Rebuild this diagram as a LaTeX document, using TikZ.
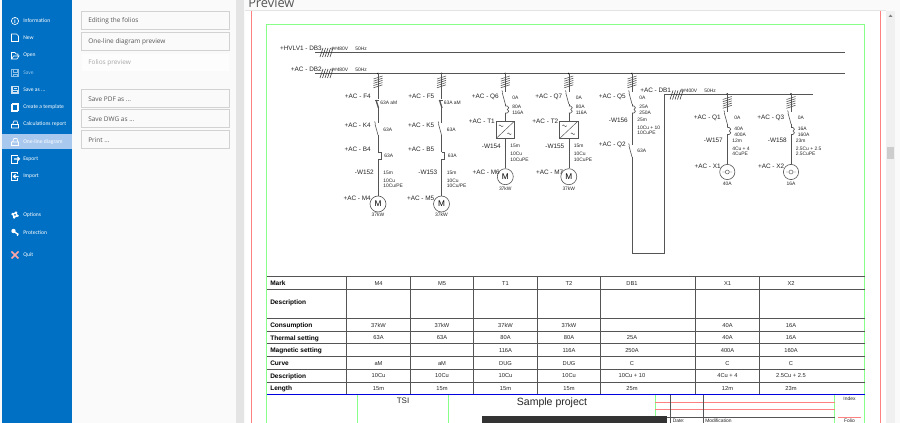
\documentclass[tikz,border=0pt]{standalone}
\usepackage{fontspec}
\setmainfont{Liberation Sans}
\newfontfamily\uifont{Open Sans}
\newfontfamily\menufont{Carlito}
\definecolor{menublue}{HTML}{0070C4}
\definecolor{menuhi}{HTML}{A8C8EE}
\definecolor{menudim}{HTML}{8FC0E8}
\definecolor{panelgrey}{HTML}{FAFAFA}
\definecolor{edgegrey}{HTML}{D2D2D2}
\definecolor{stripgrey}{HTML}{E4E4E4}
\definecolor{scrollgrey}{HTML}{F0F0F0}
\definecolor{thumbgrey}{HTML}{CDCDCD}
\definecolor{uitext}{HTML}{555555}
\definecolor{wiregrey}{HTML}{555555}
\definecolor{pagegreen}{HTML}{88FF88}
\definecolor{pagered}{HTML}{FF8080}
\definecolor{rowblue}{HTML}{0000E0}
\tikzset{
  menuitem/.style={anchor=west,inner sep=0pt,text=white,font=\menufont\fontsize{4.2}{5}\selectfont},
  panelbtn/.style={draw=edgegrey,line width=0.6pt,fill=panelgrey,minimum width=111pt,minimum height=13.2pt,anchor=north west,inner sep=0pt},
  paneltxt/.style={anchor=west,inner sep=0pt,text=uitext,font=\uifont\fontsize{4.85}{6}\selectfont},
  wire/.style={draw=wiregrey,line width=0.45pt},
  feedlbl/.style={anchor=east,inner sep=0pt,text=black!85,font=\fontsize{4.8}{6}\selectfont},
  smallval/.style={anchor=west,inner sep=0pt,align=left,text=black!85,font=\fontsize{3.7}{4.2}\selectfont},
  tabhead/.style={anchor=west,inner sep=0pt,text=black,font=\bfseries\fontsize{4.9}{5}\selectfont},
  tabval/.style={inner sep=0pt,text=black!85,font=\fontsize{4.3}{5}\selectfont},
  motor/.style={circle,wire,fill=white,minimum size=12pt,inner sep=0pt,font=\fontsize{6.2}{7}\selectfont},
  socket/.style={circle,wire,fill=white,minimum size=11.4pt,inner sep=0pt},
  drivebox/.style={rectangle,wire,fill=white,minimum width=13.6pt,minimum height=12.8pt,inner sep=0pt},
  feederhatch/.pic={\draw[wire,yscale=-1] (-4.5,-3) -- (4.5,-6) (-4.5,-0.8) -- (4.5,-3.8) (-4.5,1.4) -- (4.5,-1.6) (-4.5,3.6) -- (4.5,0.6) (-4.5,5.8) -- (4.5,2.8);},
  bushatch/.pic={\draw[wire,black!80,yscale=-1] (0,9) -- (3,0) (2.5,9) -- (5.5,0) (5,9) -- (8,0) (7.5,9) -- (10.5,0) (10,9) -- (13,0);},
  switchblade/.pic={\draw[wire,yscale=-1] (-3,1) -- (0,12) (-3.4,-1.5) -- (-2.6,0.5);},
  fuseblade/.pic={\draw[wire,line width=1pt,yscale=-1] (-2,0) -- (0.5,8); \draw[wire,yscale=-1] (-3,0) -- (1,0);},
  thermalbump/.pic={\draw[wire,yscale=-1] (0,0) -- (2,0) .. controls (4,0) and (4,3.5) .. (2,3.5) .. controls (4,3.5) and (4,7) .. (2,7) -- (0,7);},
  bimetal/.pic={\draw[wire,yscale=-1] (0,0) -- (3,0) -- (3,7) -- (0,7);},
  drivesym/.pic={\draw[wire,line width=0.35pt,yscale=-1] (-9,8.5) -- (9,-8.5) (-6.5,-4) .. controls (-5,-7) and (-4,-1) .. (-2,-4) (2,4) .. controls (3.5,1) and (4.5,7) .. (6,4);},
  socketsym/.pic={\draw[wire,line width=0.35pt,yscale=-1] (-5,0) -- (-2,0) (2,0) -- (5,0) (-2,0) arc (180:0:2) (-2,0) arc (180:360:2);},
}
\begin{document}
\begin{tikzpicture}[x=0.75pt,y=0.75pt,yscale=-1,xscale=1]
\useasboundingbox (0,0) rectangle (900,423);
\clip (0,0) rectangle (900,423);

% Backgrounds
\fill[panelgrey] (0,0) rectangle (900,423);
\fill[menublue] (2,0) rectangle (72,423);
\fill[stripgrey] (236,0) rectangle (244,423);
\fill[white] (245,11) rectangle (886,423);
\draw[edgegrey!60,line width=0.5pt] (245,10.5) -- (886,10.5);
\fill[scrollgrey] (886,11) rectangle (894.5,423);
\fill[thumbgrey] (887,147) rectangle (894,159);
\fill[black!50] (888.5,17) -- (890.5,14.5) -- (892.5,17) -- cycle;
\fill[menuhi] (2,134.5) rectangle (72,149.5);

% Menu text
\node[menuitem] (miInfo) at (23,21) {Information};
\node[menuitem] (miNew) at (23,38) {New};
\node[menuitem] (miOpen) at (23,55.5) {Open};
\node[menuitem,text=menudim] (miSave) at (23,73) {Save};
\node[menuitem] (miSaveas) at (23,90) {Save as ...};
\node[menuitem] (miTempl) at (23,107) {Create a template};
\node[menuitem] (miCalc) at (23,124.5) {Calculations report};
\node[menuitem] (miOneline) at (23,142) {One-line diagram};
\node[menuitem] (miExport) at (23,159) {Export};
\node[menuitem] (miImport) at (23,176.5) {Import};
\node[menuitem] (miOptions) at (23,215) {Options};
\node[menuitem] (miProtect) at (23,232.5) {Protection};
\node[menuitem] (miQuit) at (23,255) {Quit};

% Menu icons
\node[circle,draw=white,line width=0.5pt,minimum size=5.4pt,inner sep=0pt,text=white,font=\bfseries\fontsize{4.5}{5}\selectfont] (icInfo) at (15,21) {i};
\draw[white,line width=0.5pt] (11.5,34) -- (16.5,34) -- (18.5,36) -- (18.5,41.5) -- (11.5,41.5) -- cycle;
\draw[white,line width=0.5pt] (11.5,59) -- (11.5,52.5) -- (15,52.5) -- (16,54) -- (18,54) -- (18,56) (11.5,59) -- (13.5,56) -- (19,56) -- (17,59) -- cycle;
\draw[menudim,line width=0.5pt] (11.5,69.5) rectangle (18.5,76.5) (13,69.5) rectangle (17,72) (13,74) rectangle (17,76.5);
\fill[white!80!menublue] (11,86.5) rectangle (19,94);
\draw[menublue,line width=0.4pt] (13,87) -- (17,87) -- (17,89.5) -- (13,89.5) -- cycle (13,91.5) -- (17,91.5);
\draw[white,line width=0.5pt] (11.5,104) rectangle (17,111) (12.5,103) rectangle (18.5,110);
\draw[white,line width=0.5pt] (11.5,124.5) -- (18.5,124.5) -- (18.5,128) -- (11.5,128) -- cycle (12.5,124.5) -- (14,121) -- (17,121) -- (18,124.5);
\draw[white,line width=0.5pt] (11.5,142) -- (18.5,142) -- (18.5,145.5) -- (11.5,145.5) -- cycle (12.5,142) -- (14,138.5) -- (17,138.5) -- (18,142);
\draw[white,line width=0.5pt] (17.5,156.5) -- (17.5,155) -- (11.5,155) -- (11.5,163) -- (17.5,163) -- (17.5,161.5);
\draw[white,line width=0.8pt] (14,159) -- (19.5,159) (17.5,157) -- (19.5,159) -- (17.5,161);
\draw[white,line width=0.5pt] (17.5,174.5) -- (17.5,172.5) -- (11.5,172.5) -- (11.5,180.5) -- (17.5,180.5) -- (17.5,178.5);
\draw[white,line width=0.8pt] (13,176.5) -- (18.5,176.5) (15.5,174.5) -- (13.5,176.5) -- (15.5,178.5);
\draw[white,line width=1.4pt,dotted] (15,215) circle (2.9);
\fill[white] (15,215) circle (2.6);
\fill[menublue] (15,215) circle (1);
\fill[white] (13.5,231) circle (2.2);
\draw[white,line width=1pt] (14.5,232) -- (18.5,234.5) (17.5,234) -- (17.5,236);
\draw[pagered!70!white,line width=1.2pt] (11.5,251.5) -- (18.5,258.5) (18.5,251.5) -- (11.5,258.5);

% Panel buttons
\node[panelbtn] (btEdit) at (81,11.2) {};
\node[panelbtn] (btPrev) at (81,32.2) {};
\node[panelbtn,draw=panelgrey,fill=white!60!panelgrey] (btFolios) at (81,53.2) {};
\node[panelbtn] (btPdf) at (81,89.2) {};
\node[panelbtn] (btDwg) at (81,109.5) {};
\node[panelbtn] (btPrint) at (81,130.2) {};
\node[paneltxt] (txEdit) at (88,21) {Editing the folios};
\node[paneltxt] (txPrev) at (88,42) {One-line diagram preview};
\node[paneltxt,text=black!35] (txFolios) at (88,63) {Folios preview};
\node[paneltxt] (txPdf) at (88,99) {Save PDF as ...};
\node[paneltxt] (txDwg) at (88,119.5) {Save DWG as ...};
\node[paneltxt] (txPrint) at (88,140) {Print ...};
\node[anchor=west,inner sep=0pt,text=uitext,font=\uifont\fontsize{9.6}{10}\selectfont] (txPreview) at (248,3) {Preview};

% Page frames
\draw[pagered,line width=0.6pt] (251.5,11) -- (251.5,423);
\draw[pagered,line width=0.6pt] (880,11) -- (880,423);
\draw[pagegreen,line width=0.7pt] (266.5,423) -- (266.5,24.5) -- (864.8,24.5) -- (864.8,423);

% Buses
\coordinate (hvA) at (315,52.5);
\coordinate (hvB) at (845,52.5);
\coordinate (dbA) at (315,73.5);
\coordinate (dbB) at (845,73.5);
\coordinate (dbaA) at (664,94);
\coordinate (dbaB) at (813,94);
\draw[wire] (hvA) -- (hvB);
\draw[wire] (dbA) -- (dbB);
\draw[wire] (dbaA) -- (dbaB);
\node[feedlbl] (lbHv) at (322,48.5) {+HVLV1 - DB3};
\node[feedlbl] (lbDb) at (322,69.5) {+AC - DB2};
\node[feedlbl,anchor=west] (lbDba) at (640,90) {+AC - DB1};
\pic at (320,48) {bushatch};
\pic at (320,69) {bushatch};
\pic at (670,90.5) {bushatch};
\node[smallval] (hvV) at (331,49) {\#\#480V};
\node[smallval] (hvF) at (355,49) {50Hz};
\node[smallval] (dbV) at (331,70) {\#\#480V};
\node[smallval] (dbF) at (355,70) {50Hz};
\node[smallval] (dbaV) at (680,90.5) {\#\#400V};
\node[smallval] (dbaF) at (704,90.5) {50Hz};

% Feeder M4
\coordinate (mdTop) at (378,73.5);
\coordinate (mdFuseA) at (378,99);
\coordinate (mdFuseB) at (378,108);
\coordinate (mdSwA) at (378,123);
\coordinate (mdSwB) at (378,135);
\coordinate (mdBiA) at (378,152);
\coordinate (mdBiB) at (378,159);
\fill[black] (mdTop) circle (0.9);
\pic at (378,82) {feederhatch};
\draw[wire] (mdTop) -- (mdFuseA);
\pic at (378,100) {fuseblade};
\draw[wire] (mdFuseB) -- (mdSwA);
\pic at (378,123) {switchblade};
\draw[wire] (mdSwB) -- (mdBiA);
\pic at (378,152) {bimetal};
\node[motor] (mMd) at (378,204) {M};
\draw[wire] (mdBiB) -- (mMd);
\node[feedlbl] (lbFd) at (371,96.5) {+AC - F4};
\node[smallval] (vFd) at (380,103) {63A aM};
\node[feedlbl] (lbKd) at (371,125.5) {+AC - K4};
\node[smallval] (vKd) at (383,130) {63A};
\node[feedlbl] (lbBd) at (371,149.5) {+AC - B4};
\node[smallval] (vBd) at (384,156) {63A};
\node[feedlbl] (lbWd) at (374,172) {-W152};
\node[smallval] (vWd) at (383,172.5) {15m};
\node[smallval] (vCd) at (383,183.5) {10Cu\\10Cu/PE};
\node[feedlbl] (lbMd) at (371,198) {+AC - M4};
\node[smallval,anchor=center] (vMd) at (378,215) {37kW};

% Feeder M5
\coordinate (meTop) at (441.5,73.5);
\coordinate (meFuseA) at (441.5,99);
\coordinate (meFuseB) at (441.5,108);
\coordinate (meSwA) at (441.5,123);
\coordinate (meSwB) at (441.5,135);
\coordinate (meBiA) at (441.5,152);
\coordinate (meBiB) at (441.5,159);
\fill[black] (meTop) circle (0.9);
\pic at (441.5,82) {feederhatch};
\draw[wire] (meTop) -- (meFuseA);
\pic at (441.5,100) {fuseblade};
\draw[wire] (meFuseB) -- (meSwA);
\pic at (441.5,123) {switchblade};
\draw[wire] (meSwB) -- (meBiA);
\pic at (441.5,152) {bimetal};
\node[motor] (mMe) at (441.5,204) {M};
\draw[wire] (meBiB) -- (mMe);
\node[feedlbl] (lbFe) at (434.5,96.5) {+AC - F5};
\node[smallval] (vFe) at (443.5,103) {63A aM};
\node[feedlbl] (lbKe) at (434.5,125.5) {+AC - K5};
\node[smallval] (vKe) at (446.5,130) {63A};
\node[feedlbl] (lbBe) at (434.5,149.5) {+AC - B5};
\node[smallval] (vBe) at (447.5,156) {63A};
\node[feedlbl] (lbWe) at (437.5,172) {-W153};
\node[smallval] (vWe) at (446.5,172.5) {15m};
\node[smallval] (vCe) at (446.5,183.5) {10Cu\\10Cu/PE};
\node[feedlbl] (lbMe) at (434.5,198) {+AC - M5};
\node[smallval,anchor=center] (vMe) at (441.5,215) {37kW};

% Feeder T1
\coordinate (taTop) at (505.3,73.5);
\coordinate (taSwA) at (505.3,92);
\coordinate (taSwB) at (505.3,104);
\coordinate (taBiA) at (505.3,106);
\coordinate (taBiB) at (505.3,113);
\fill[black] (taTop) circle (0.9);
\pic at (505.3,82) {feederhatch};
\draw[wire] (taTop) -- (taSwA);
\pic at (505.3,92) {switchblade};
\draw[wire] (taSwB) -- (taBiA);
\pic at (505.3,106) {thermalbump};
\node[drivebox] (drTa) at (505.3,129.8) {};
\pic at (505.3,129.8) {drivesym};
\draw[wire] (taBiB) -- (drTa);
\node[motor] (mTa) at (505.3,176.7) {M};
\draw[wire] (drTa) -- (mTa);
\node[feedlbl] (lbQa) at (499,97) {+AC - Q6};
\node[smallval] (vQa) at (512,98) {0A};
\node[smallval] (vTa) at (512,109.7) {80A\\116A};
\node[feedlbl] (lbTa) at (495,121.5) {+AC - T1};
\node[feedlbl] (lbWa) at (501,146) {-W154};
\node[smallval] (vWa) at (510,146) {15m};
\node[smallval] (vCa) at (510,156.8) {10Cu\\10CuPE};
\node[feedlbl] (lbMa) at (500,172) {+AC - M6};
\node[smallval,anchor=center] (vMa) at (505.3,189) {37kW};

% Feeder T2
\coordinate (tbTop) at (568.8,73.5);
\coordinate (tbSwA) at (568.8,92);
\coordinate (tbSwB) at (568.8,104);
\coordinate (tbBiA) at (568.8,106);
\coordinate (tbBiB) at (568.8,113);
\fill[black] (tbTop) circle (0.9);
\pic at (568.8,82) {feederhatch};
\draw[wire] (tbTop) -- (tbSwA);
\pic at (568.8,92) {switchblade};
\draw[wire] (tbSwB) -- (tbBiA);
\pic at (568.8,106) {thermalbump};
\node[drivebox] (drTb) at (568.8,129.8) {};
\pic at (568.8,129.8) {drivesym};
\draw[wire] (tbBiB) -- (drTb);
\node[motor] (mTb) at (568.8,176.7) {M};
\draw[wire] (drTb) -- (mTb);
\node[feedlbl] (lbQb) at (562.5,97) {+AC - Q7};
\node[smallval] (vQb) at (575.5,98) {0A};
\node[smallval] (vTb) at (575.5,109.7) {80A\\116A};
\node[feedlbl] (lbTb) at (558.5,121.5) {+AC - T2};
\node[feedlbl] (lbWb) at (564.5,146) {-W155};
\node[smallval] (vWb) at (573.5,146) {15m};
\node[smallval] (vCb) at (573.5,156.8) {10Cu\\10CuPE};
\node[feedlbl] (lbMb) at (563.5,172) {+AC - M7};
\node[smallval,anchor=center] (vMb) at (568.8,189) {37kW};

% Feeder DB1
\coordinate (dcTop) at (632,73.5);
\coordinate (dcSwA) at (632,92);
\coordinate (dcSwB) at (632,104);
\coordinate (dcBiA) at (632,106);
\coordinate (dcBiB) at (632,113);
\coordinate (dcSqA) at (632,145);
\coordinate (dcSqB) at (632,157);
\coordinate (dcEnd) at (632,253);
\coordinate (dcEndB) at (664,253);
\fill[black] (dcTop) circle (0.9);
\pic at (632,82) {feederhatch};
\draw[wire] (dcTop) -- (dcSwA);
\pic at (632,92) {switchblade};
\draw[wire] (dcSwB) -- (dcBiA);
\pic at (632,106) {thermalbump};
\draw[wire] (dcBiB) -- (dcSqA);
\pic at (632,145) {switchblade};
\draw[wire] (dcSqB) -- (dcEnd) -- (dcEndB) -- (dbaA);
\node[feedlbl] (lbQc) at (626,97) {+AC - Q5};
\node[smallval] (vQc) at (639,98) {0A};
\node[smallval] (vTc) at (639,109.7) {25A\\250A};
\node[feedlbl] (lbWc) at (628,120) {-W156};
\node[smallval] (vWc) at (637,120) {25m};
\node[smallval] (vCc) at (637,130.5) {10Cu + 10\\10CuPE};
\node[feedlbl] (lbQd) at (626,145) {+AC - Q2};
\node[smallval] (vQd) at (637,151) {63A};

% Feeder X1
\coordinate (xaTop) at (727.3,94);
\coordinate (xaSwA) at (727.3,112);
\coordinate (xaSwB) at (727.3,124);
\coordinate (xaBiA) at (727.3,127.5);
\coordinate (xaBiB) at (727.3,134.5);
\fill[black] (xaTop) circle (0.9);
\pic at (727.3,102.5) {feederhatch};
\draw[wire] (xaTop) -- (xaSwA);
\pic at (727.3,112) {switchblade};
\draw[wire] (xaSwB) -- (xaBiA);
\pic at (727.3,127.5) {thermalbump};
\node[socket] (skXa) at (727.3,172) {};
\pic at (727.3,172) {socketsym};
\draw[wire] (xaBiB) -- (skXa);
\node[feedlbl] (lbQe) at (721,118) {+AC - Q1};
\node[smallval] (vQe) at (734,118) {0A};
\node[smallval] (vTe) at (734,131.7) {40A\\400A};
\node[feedlbl] (lbWe2) at (723,140) {-W157};
\node[smallval] (vWe2) at (732,141) {12m};
\node[smallval] (vCe2) at (732,151.5) {4Cu + 4\\4CuPE};
\node[feedlbl] (lbXa) at (721,166) {+AC - X1};
\node[smallval,anchor=center] (vXa) at (727.3,183.5) {40A};

% Feeder X2
\coordinate (xbTop) at (791,94);
\coordinate (xbSwA) at (791,112);
\coordinate (xbSwB) at (791,124);
\coordinate (xbBiA) at (791,127.5);
\coordinate (xbBiB) at (791,134.5);
\fill[black] (xbTop) circle (0.9);
\pic at (791,102.5) {feederhatch};
\draw[wire] (xbTop) -- (xbSwA);
\pic at (791,112) {switchblade};
\draw[wire] (xbSwB) -- (xbBiA);
\pic at (791,127.5) {thermalbump};
\node[socket] (skXb) at (791,172) {};
\pic at (791,172) {socketsym};
\draw[wire] (xbBiB) -- (skXb);
\node[feedlbl] (lbQf) at (784.5,118) {+AC - Q3};
\node[smallval] (vQf) at (797.5,118) {0A};
\node[smallval] (vTf) at (797.5,131.7) {16A\\160A};
\node[feedlbl] (lbWf) at (787,140) {-W158};
\node[smallval] (vWf) at (795.5,141) {23m};
\node[smallval] (vCf) at (795.5,151.5) {2.5Cu + 2.5\\2.5CuPE};
\node[feedlbl] (lbXb) at (784.5,166) {+AC - X2};
\node[smallval,anchor=center] (vXb) at (791,183.5) {16A};

% Table lines
\draw[wire] (267,276.5) -- (865,276.5);
\draw[wire] (267,289.5) -- (865,289.5);
\draw[wire] (267,318.5) -- (865,318.5);
\draw[wire] (267,331.5) -- (865,331.5);
\draw[wire] (267,343.5) -- (865,343.5);
\draw[wire] (267,356.5) -- (865,356.5);
\draw[wire] (267,369) -- (865,369);
\draw[wire] (267,382) -- (865,382);
\draw[wire] (346.5,276.5) -- (346.5,394.5);
\draw[wire] (410.5,276.5) -- (410.5,394.5);
\draw[wire] (473.5,276.5) -- (473.5,394.5);
\draw[wire] (537.5,276.5) -- (537.5,394.5);
\draw[wire] (600.5,276.5) -- (600.5,394.5);
\draw[wire] (695.5,276.5) -- (695.5,394.5);
\draw[wire] (759.5,276.5) -- (759.5,394.5);

% Table heads
\node[tabhead] (hMark) at (270,283.5) {Mark};
\node[tabhead] (hDesc) at (270,302.5) {Description};
\node[tabhead] (hCons) at (270,325.5) {Consumption};
\node[tabhead] (hTherm) at (270,338.5) {Thermal setting};
\node[tabhead] (hMagn) at (270,351) {Magnetic setting};
\node[tabhead] (hCurve) at (270,363.5) {Curve};
\node[tabhead] (hCable) at (270,376.5) {Description};
\node[tabhead] (hLen) at (270,389) {Length};

% Table values
\node[tabval] (c11) at (378.5,283.5) {M4};
\node[tabval] (c12) at (442,283.5) {M5};
\node[tabval] (c13) at (505.5,283.5) {T1};
\node[tabval] (c14) at (569,283.5) {T2};
\node[tabval] (c15) at (632,283.5) {DB1};
\node[tabval] (c16) at (727.5,283.5) {X1};
\node[tabval] (c17) at (791,283.5) {X2};
\node[tabval] (c21) at (378.5,325.5) {37kW};
\node[tabval] (c22) at (442,325.5) {37kW};
\node[tabval] (c23) at (505.5,325.5) {37kW};
\node[tabval] (c24) at (569,325.5) {37kW};
\node[tabval] (c26) at (727.5,325.5) {40A};
\node[tabval] (c27) at (791,325.5) {16A};
\node[tabval] (c31) at (378.5,338) {63A};
\node[tabval] (c32) at (442,338) {63A};
\node[tabval] (c33) at (505.5,338) {80A};
\node[tabval] (c34) at (569,338) {80A};
\node[tabval] (c35) at (632,338) {25A};
\node[tabval] (c36) at (727.5,338) {40A};
\node[tabval] (c37) at (791,338) {16A};
\node[tabval] (c43) at (505.5,350.5) {116A};
\node[tabval] (c44) at (569,350.5) {116A};
\node[tabval] (c45) at (632,350.5) {250A};
\node[tabval] (c46) at (727.5,350.5) {400A};
\node[tabval] (c47) at (791,350.5) {160A};
\node[tabval] (c51) at (378.5,363.5) {aM};
\node[tabval] (c52) at (442,363.5) {aM};
\node[tabval] (c53) at (505.5,363.5) {DUG};
\node[tabval] (c54) at (569,363.5) {DUG};
\node[tabval] (c55) at (632,363.5) {C};
\node[tabval] (c56) at (727.5,363.5) {C};
\node[tabval] (c57) at (791,363.5) {C};
\node[tabval] (c61) at (378.5,376) {10Cu};
\node[tabval] (c62) at (442,376) {10Cu};
\node[tabval] (c63) at (505.5,376) {10Cu};
\node[tabval] (c64) at (569,376) {10Cu};
\node[tabval] (c65) at (632,376) {10Cu + 10};
\node[tabval] (c66) at (727.5,376) {4Cu + 4};
\node[tabval] (c67) at (791,376) {2.5Cu + 2.5};
\node[tabval] (c71) at (378.5,388.5) {15m};
\node[tabval] (c72) at (442,388.5) {15m};
\node[tabval] (c73) at (505.5,388.5) {15m};
\node[tabval] (c74) at (569,388.5) {15m};
\node[tabval] (c75) at (632,388.5) {25m};
\node[tabval] (c76) at (727.5,388.5) {12m};
\node[tabval] (c77) at (791,388.5) {23m};

% Title block
\draw[pagegreen,line width=0.7pt] (357.5,394.5) -- (357.5,423);
\draw[pagegreen,line width=0.7pt] (448.5,394.5) -- (448.5,423);
\draw[pagegreen,line width=0.7pt] (655.3,394.5) -- (655.3,423);
\draw[pagegreen,line width=0.7pt] (834.5,394.5) -- (834.5,423);
\draw[pagered,line width=0.6pt] (655.3,402.5) -- (834.5,402.5);
\draw[pagered,line width=0.6pt] (655.3,409.5) -- (834.5,409.5);
\draw[pagered,line width=0.6pt] (838,417.5) -- (861,417.5);
\draw[wire] (655.3,417.5) -- (834.5,417.5);
\draw[wire] (670.5,394.5) -- (670.5,423);
\draw[wire] (703.5,394.5) -- (703.5,423);
\draw[rowblue,line width=0.75pt] (267,394.5) -- (865,394.5);
\fill[black!80] (482,416) rectangle (667,423);
\node[tabval,font=\fontsize{6}{7}\selectfont] (tbTsi) at (403,401) {TSI};
\node[tabval,font=\fontsize{7.9}{9}\selectfont] (tbName) at (552,402.5) {Sample project};
\node[smallval] (tbDate) at (672.5,421) {Date:};
\node[smallval] (tbMod) at (705,421) {Modification};
\node[smallval,anchor=center] (tbIdx) at (849.5,398.5) {Index};
\node[smallval,anchor=center] (tbFolio) at (849.5,421) {Folio};

\end{tikzpicture}
\end{document}
